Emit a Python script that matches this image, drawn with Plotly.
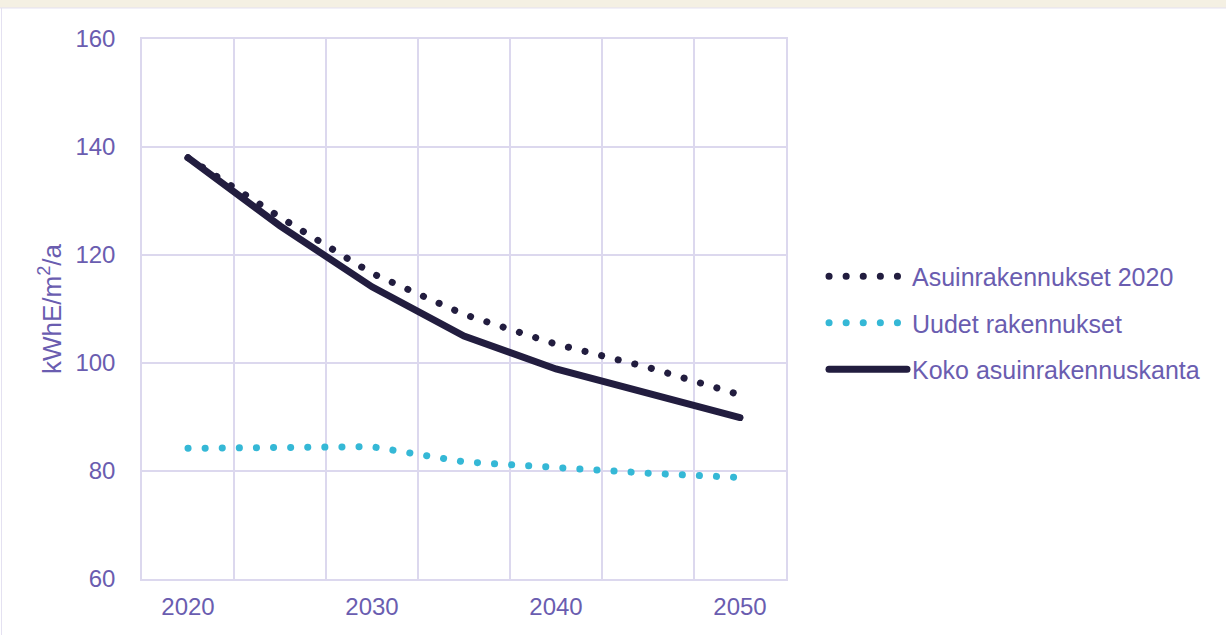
import plotly.graph_objects as go

years = [2020, 2025, 2030, 2035, 2040, 2045, 2050]
year_labels = ["2020", "", "2030", "", "2040", "", "2050"]
asuin_2020 = [138.0, 127.0, 116.6, 109.0, 103.5, 99.2, 94.1]
uudet = [84.2, 84.5, 84.5, 81.7, 80.5, 79.6, 78.8]
koko = [138.0, 125.4, 114.1, 105.0, 98.9, 94.3, 89.9]

x_cats = [str(y) for y in years]

W, H = 1226, 635
L, R, T, B = 142, 440, 39, 56
ph = H - T - B
pw = W - L - R

txt = "#6a5db0"
grid = "#dcd8ee"
dark = "#221d3f"
cyan = "#35b8d6"
FONT = "Liberation Sans, Arial, sans-serif"

fig = go.Figure()
fig.add_trace(go.Scatter(x=x_cats, y=asuin_2020, mode="lines", name="Asuinrakennukset 2020",
                         legendgroup="a",
                         line=dict(color=dark, width=7, dash="0.1px,17px")))
fig.add_trace(go.Scatter(x=x_cats, y=uudet, mode="lines", name="Uudet rakennukset",
                         legendgroup="b",
                         line=dict(color=cyan, width=7, dash="0.1px,17px")))
fig.add_trace(go.Scatter(x=x_cats, y=koko, mode="lines", name="Koko asuinrakennuskanta",
                         legendgroup="c",
                         line=dict(color=dark, width=7)))

# decorative page strip at top
strip_top = 1 + T / ph
strip_bot = 1 + (T - 8) / ph
fig.add_shape(type="rect", xref="paper", yref="paper", x0=-L / pw, x1=1 + R / pw,
              y0=strip_bot, y1=strip_top, fillcolor="#f4f0e3", line=dict(width=0), layer="below")
fig.add_shape(type="line", xref="paper", yref="paper", x0=-L / pw, x1=1 + R / pw,
              y0=strip_bot, y1=strip_bot, line=dict(color="#e4e1f1", width=1), layer="below")
fig.add_shape(type="line", xref="paper", yref="paper", x0=-(L - 1.5) / pw, x1=-(L - 1.5) / pw,
              y0=-B / ph, y1=strip_bot, line=dict(color="#e4e1f1", width=1), layer="below")

fig.update_layout(
    width=W, height=H,
    margin=dict(l=L, r=R, t=T, b=B, pad=0),
    paper_bgcolor="white", plot_bgcolor="white",
    font=dict(family=FONT, size=24, color=txt),
    showlegend=True,
    legend=dict(x=1.0 + 38 / pw, y=0.5 - 14 / ph, xanchor="left", yanchor="middle",
                font=dict(family=FONT, size=25, color=txt),
                tracegroupgap=11, itemwidth=78, bgcolor="rgba(0,0,0,0)"),
    xaxis=dict(type="category", categoryorder="array", categoryarray=x_cats,
               range=[-0.5, 6.5],
               tickvals=x_cats, ticktext=year_labels, tickson="boundaries",
               showgrid=True, gridcolor=grid, gridwidth=1.5,
               showline=True, linecolor=grid, linewidth=1.5, mirror=True,
               ticks="outside", ticklen=16, tickcolor="rgba(0,0,0,0)",
               ticklabelstandoff=5,
               tickfont=dict(size=24, color=txt), zeroline=False),
    yaxis=dict(range=[60, 160], tickvals=[60, 80, 100, 120, 140, 160],
               showgrid=True, gridcolor=grid, gridwidth=1.5,
               showline=True, linecolor=grid, linewidth=1.5, mirror=True,
               ticks="outside", ticklen=20, tickcolor="rgba(0,0,0,0)",
               tickfont=dict(size=24, color=txt), zeroline=False,
               title=dict(text="kWhE/m<sup>2</sup>/a", font=dict(size=26, color=txt), standoff=6)),
)

post = """
var st = document.createElement('style');
st.innerHTML = '.js-line, .legendlines path { stroke-linecap: round !important; }';
document.head.appendChild(st);
"""
fig.write_html("out.html", post_script=post)
